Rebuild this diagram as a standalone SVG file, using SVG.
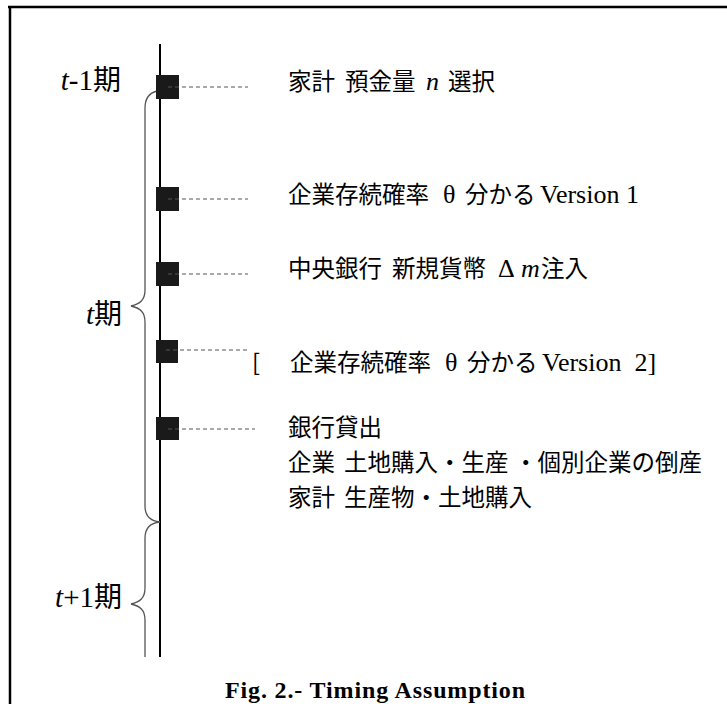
<svg xmlns="http://www.w3.org/2000/svg" width="727" height="704" viewBox="0 0 727 704">
<style>
.jp{font-family:"Noto Sans CJK JP","Noto Sans",sans-serif;font-size:23.5px;fill:#000}
.se{font-family:"Liberation Serif",serif;font-size:26px}
.it{font-family:"Liberation Serif",serif;font-style:italic;font-size:26px}
.lab{font-family:"Noto Sans CJK JP",sans-serif;font-size:28px;fill:#000}
.lab .it,.lab .se{font-size:29px}
.sq{fill:#1a1a1a}
.dash{stroke:#555;stroke-width:1.2;stroke-dasharray:4 3;fill:none}
.brace{stroke:#555;stroke-width:1.3;fill:none}
.cap{font-family:"Liberation Serif",serif;font-weight:bold;font-size:24px;fill:#000}
</style>
<rect width="727" height="704" fill="#fff"/>
<g id="frame" stroke="#000" stroke-width="2.5">
<line x1="8" y1="7" x2="727" y2="7"/>
<line x1="10" y1="6" x2="10" y2="704"/>
</g>
<g id="connectors">
<line x1="160" y1="44" x2="160" y2="657" stroke="#000" stroke-width="2"/>
<path class="brace" d="M157,91 C149,93 145,98 145,108 L145,290 C145,300 140,304 131,306 C140,308 145,312 145,322 L145,506 C145,516 150,521 160,522"/>
<path class="brace" d="M160,522 C150,523 145,528 145,538 L145,588 C145,598 140,602 131,604 C140,606 145,610 145,620 L145,657"/>
</g>
<g id="label-t-1">
<text class="lab" x="121" y="90" text-anchor="end"><tspan class="it">t</tspan><tspan class="se">-1</tspan>期</text>
</g>
<g id="label-t">
<text class="lab" x="122" y="324" text-anchor="end"><tspan class="it">t</tspan>期</text>
</g>
<g id="label-t+1">
<text class="lab" x="122" y="607" text-anchor="end"><tspan class="it">t</tspan><tspan class="se">+1</tspan>期</text>
</g>
<g id="event1">
<rect class="sq" x="156" y="75" width="23" height="24"/>
<line class="dash" x1="168" y1="87" x2="248" y2="87"/>
<text class="jp" y="90"><tspan x="288">家計</tspan><tspan x="345">預金量</tspan><tspan class="it" x="426">n</tspan><tspan x="448">選択</tspan></text>
</g>
<g id="event2">
<rect class="sq" x="156" y="187" width="23" height="24"/>
<line class="dash" x1="168" y1="199" x2="248" y2="199"/>
<text class="jp" y="203"><tspan x="288">企業存続確率</tspan><tspan class="se" x="443">θ</tspan><tspan x="465">分かる</tspan><tspan class="se" x="540">Version 1</tspan></text>
</g>
<g id="event3">
<rect class="sq" x="156" y="262" width="23" height="24"/>
<line class="dash" x1="168" y1="274" x2="248" y2="274"/>
<text class="jp" y="277"><tspan x="288">中央銀行</tspan><tspan x="392">新規貨幣</tspan><tspan class="se" x="498">Δ</tspan><tspan class="it" x="521">m</tspan><tspan x="541">注入</tspan></text>
</g>
<g id="event4">
<rect class="sq" x="156" y="340" width="22" height="23"/>
<line class="dash" x1="166" y1="350" x2="250" y2="350"/>
<text class="jp" y="371"><tspan x="252">[</tspan><tspan x="290">企業存続確率</tspan><tspan class="se" x="445">θ</tspan><tspan x="467">分かる</tspan><tspan class="se" x="542" xml:space="preserve">Version  2]</tspan></text>
</g>
<g id="event5">
<rect class="sq" x="156" y="417" width="23" height="23"/>
<line class="dash" x1="168" y1="429" x2="255" y2="429"/>
<text class="jp" x="288" y="436">銀行貸出</text>
<text class="jp" y="471"><tspan x="288">企業</tspan><tspan x="344">土地購入・生産</tspan><tspan x="514">・個別企業の倒産</tspan></text>
<text class="jp" y="506"><tspan x="288">家計</tspan><tspan x="344">生産物・土地購入</tspan></text>
</g>
<g id="caption">
<text class="cap" x="225" y="698" textLength="300" lengthAdjust="spacing">Fig. 2.- Timing Assumption</text>
</g>
</svg>
